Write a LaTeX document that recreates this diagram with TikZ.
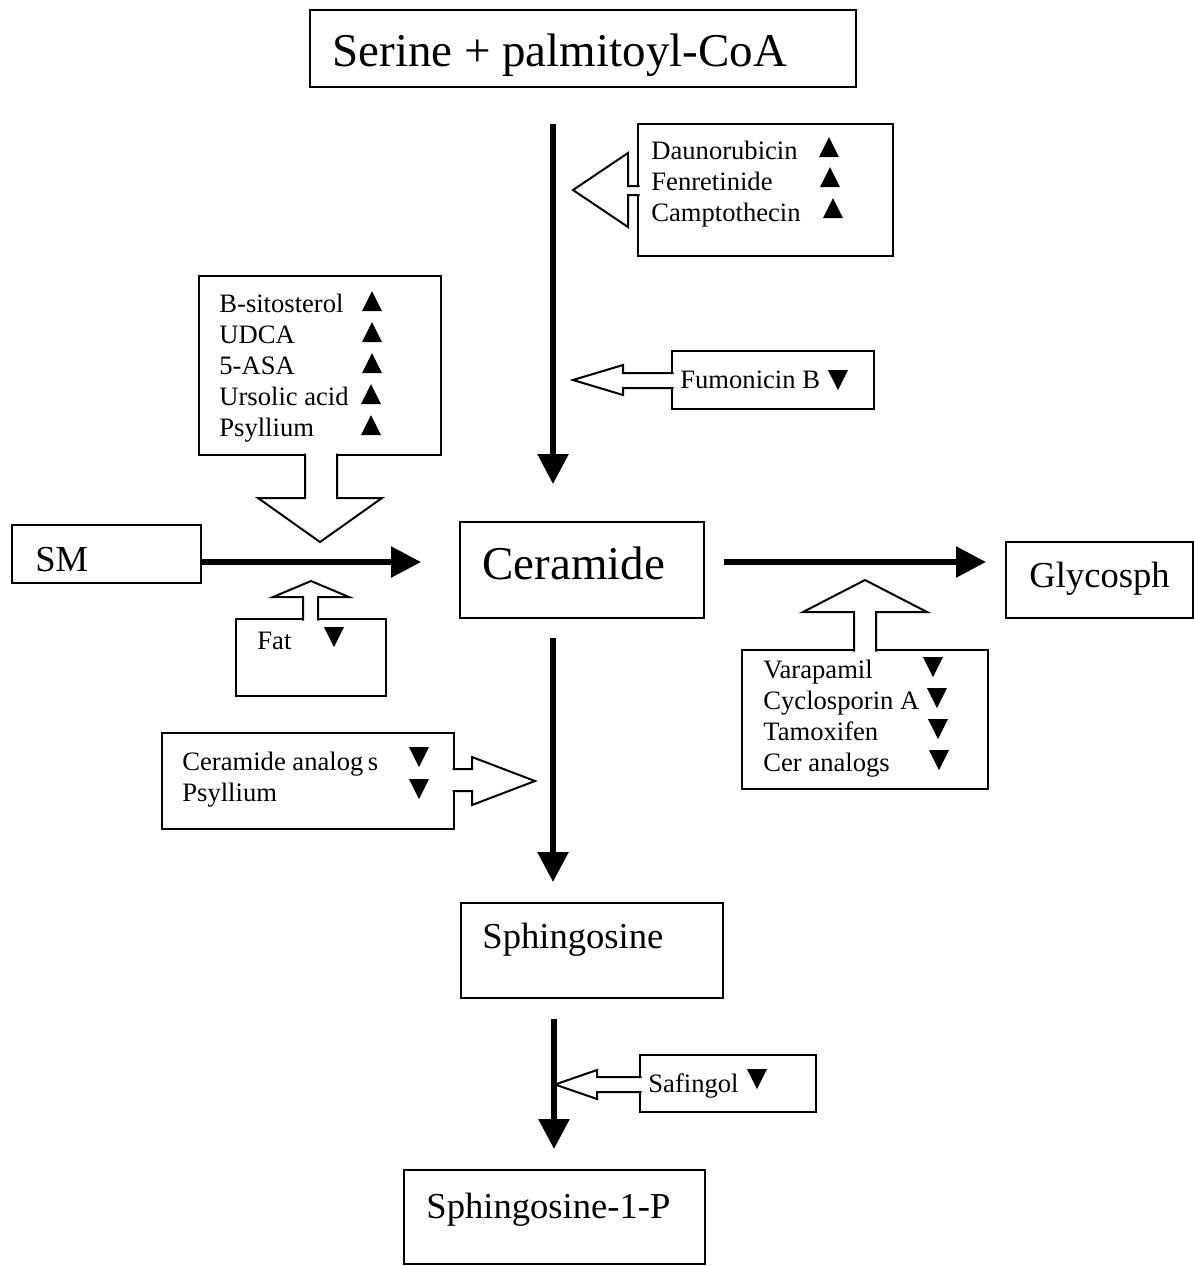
\documentclass[tikz,border=0pt]{standalone}
\usepackage{fontspec}
\setmainfont{Liberation Serif}
\usetikzlibrary{arrows.meta,calc,fit}
\tikzset{
  box/.style={draw, line width=1pt, inner sep=0pt},
  flow/.style={line width=2.8pt, -{Triangle[length=15pt,width=15pt]}},
  hollow/.style={draw, fill=white, line width=1pt, line join=miter},
  bigtxt/.style={anchor=base west, inner sep=0pt, font=\fontsize{23.5}{28}\selectfont},
  midtxt/.style={anchor=base west, inner sep=0pt, font=\fontsize{18.3}{22}\selectfont},
  smalltxt/.style={anchor=base west, inner sep=0pt, font=\fontsize{13.3}{16}\selectfont},
  uptri/.pic={\fill (-10,0) -- (10,0) -- (0,-20) -- cycle;},
  dntri/.pic={\fill (-10,0) -- (10,0) -- (0,20) -- cycle;}
}
\begin{document}
\begin{tikzpicture}[x=0.5pt, y=-0.5pt]
\useasboundingbox (0,0) rectangle (1194,1266);
% boxes
\node[box, fit={(310,10) (856,87)}] (top) {};
\node[box, fit={(638,124) (893,256)}] (daun) {};
\node[box, fit={(672,351) (874,409)}] (fum) {};
\node[box, fit={(199,276) (441,455)}] (bsito) {};
\node[box, fit={(12,525) (201,583)}] (sm) {};
\node[box, fit={(460,522) (704,618)}] (cer) {};
\node[box, fit={(1006,542) (1193,618)}] (gly) {};
\node[box, fit={(236,619) (386,696)}] (fat) {};
\node[box, fit={(742,650) (988,789)}] (vara) {};
\node[box, fit={(162,733) (454,829)}] (ceran) {};
\node[box, fit={(461,903) (723,998)}] (sph) {};
\node[box, fit={(640,1055) (816,1112)}] (saf) {};
\node[box, fit={(404,1170) (705,1264)}] (sop) {};
% hollow arrows
\filldraw[hollow] (639.5,186) -- (628,186) -- (628,153) -- (573,190) -- (628,227) -- (628,195) -- (639.5,195);
\filldraw[hollow] (673.5,373) -- (623,373) -- (623,365) -- (573,380) -- (623,395) -- (623,388) -- (673.5,388);
\filldraw[hollow] (305,453.5) -- (305,498) -- (258,498) -- (320,542) -- (382,498) -- (337,498) -- (337,453.5);
\filldraw[hollow] (303,620.5) -- (303,597) -- (273,597) -- (311,581) -- (349,597) -- (318,597) -- (318,620.5);
\filldraw[hollow] (854,651.5) -- (854,612) -- (803,612) -- (865,580) -- (927,612) -- (876,612) -- (876,651.5);
\filldraw[hollow] (452.5,769) -- (472,769) -- (472,757) -- (535,781) -- (472,805) -- (472,791) -- (452.5,791);
\filldraw[hollow] (641.5,1077) -- (597,1077) -- (597,1070) -- (555,1084.5) -- (597,1099) -- (597,1092) -- (641.5,1092);
% main flow arrows
\draw[flow] ($(top.south)+(-30,36)$) -- ($(cer.north)+(-29,-37)$);
\draw[flow] ($(cer.south)+(-29,19)$) -- ($(sph.north)+(-39,-20)$);
\draw[flow] ($(sph.south)+(-38,20)$) -- ($(sop.north)+(-0.5,-20)$);
\draw[flow] ($(sm.east)+(0,8)$) -- ($(cer.west)+(-38,-8)$);
\draw[flow] ($(cer.east)+(19,-8)$) -- ($(gly.west)+(-19,-18)$);
% texts
\node[bigtxt] (t-top) at (332,66) {Serine + palmitoyl-CoA};
\node[bigtxt] (t-cer) at (482,579) {Ceramide};
\node[midtxt] (t-sm) at (35,571) {SM};
\node[midtxt] (t-gly) at (1029,587) {Glycosph};
\node[midtxt] (t-sph) at (482,948) {Sphingosine};
\node[midtxt] (t-sop) at (426,1218) {Sphingosine-1-P};
\node[smalltxt] (t-d1) at (651,159) {Daunorubicin};
\node[smalltxt] (t-d2) at (651,190) {Fenretinide};
\node[smalltxt] (t-d3) at (651,221) {Camptothecin};
\node[smalltxt] (t-fum) at (680,388) {Fumonicin B};
\node[smalltxt] (t-b1) at (219,312) {B-sitosterol};
\node[smalltxt] (t-b2) at (219,343) {UDCA};
\node[smalltxt] (t-b3) at (219,374) {5-ASA};
\node[smalltxt] (t-b4) at (219,405) {Ursolic acid};
\node[smalltxt] (t-b5) at (219,436) {Psyllium};
\node[smalltxt] (t-fat) at (257,649) {Fat};
\node[smalltxt] (t-v1) at (763,678) {Varapamil};
\node[smalltxt] (t-v2) at (763,709) {Cyclosporin A};
\node[smalltxt] (t-v3) at (763,740) {Tamoxifen};
\node[smalltxt] (t-v4) at (763,771) {Cer analogs};
\node[smalltxt] (t-c1) at (182,770) {Ceramide analog\,s};
\node[smalltxt] (t-c2) at (182,801) {Psyllium};
\node[smalltxt] (t-saf) at (648,1092) {Safingol};
% triangles
\pic at (829,157) {uptri};
\pic at (830,187) {uptri};
\pic at (833,218) {uptri};
\pic at (372,311) {uptri};
\pic at (372,342) {uptri};
\pic at (372,373) {uptri};
\pic at (371,404) {uptri};
\pic at (371,435) {uptri};
\pic at (838,370) {dntri};
\pic at (334,627) {dntri};
\pic at (933,657) {dntri};
\pic at (937,688) {dntri};
\pic at (938,719) {dntri};
\pic at (939,750) {dntri};
\pic at (419,747) {dntri};
\pic at (419,779) {dntri};
\pic at (757,1069) {dntri};
\end{tikzpicture}
\end{document}
